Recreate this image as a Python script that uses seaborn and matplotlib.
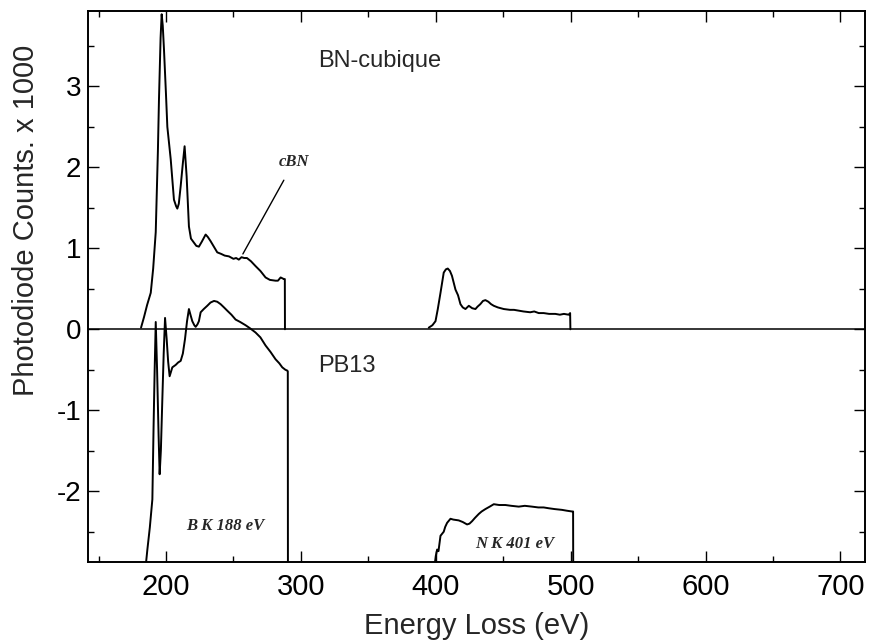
import numpy as np
import pandas as pd
import matplotlib
matplotlib.use("Agg")
import matplotlib.pyplot as plt
import seaborn as sns

# ---------------------------------------------
#   DATA
# ---------------------------------------------

# cubic BN, B K edge
cbn_b_ev = [181.5, 183.7, 186, 188.7, 190.5, 192.4, 194, 194.8, 196, 196.8, 197.6, 198.5,
            200, 201, 203.5, 205.9, 207.5, 208.4, 209.5, 210.9, 212.5, 213.8, 215.3, 217,
            218.5, 220.7, 222.5, 224.4, 226.5, 229.4, 231, 233, 235.5, 238, 241, 243.5,
            246.7, 250, 252, 254, 256, 258, 260, 263, 266.4, 270, 273.8, 277, 281.2, 283,
            285, 287.4, 288.1, 288.2]
cbn_b_counts = [0.02, 0.15, 0.3, 0.45, 0.75, 1.2, 2.2, 2.84, 3.6, 3.89, 3.75, 3.46,
                2.9, 2.5, 2.1, 1.6, 1.52, 1.49, 1.55, 1.77, 2.05, 2.26, 1.89, 1.27,
                1.12, 1.07, 1.03, 1.02, 1.08, 1.17, 1.14, 1.09, 1.02, 0.95, 0.93, 0.91,
                0.9, 0.87, 0.88, 0.86, 0.89, 0.88, 0.88, 0.84, 0.78, 0.72, 0.64, 0.61, 0.6, 0.6,
                0.64, 0.62, 0.62, 0.0]

# cubic BN, N K edge
cbn_n_ev = [394.8, 397.5, 399.8, 401.5, 403.5, 405.9, 407.5, 408.9, 410.5, 412, 414.6, 416.5,
            418.3, 420, 422, 424.5, 427, 429.4, 431, 433, 435, 436.8, 439, 441, 443, 446,
            450.4, 455, 458, 461.5, 465, 470, 473, 476.3, 480, 484, 488.6, 492, 495, 498.5,
            499.6, 499.8]
cbn_n_counts = [0.02, 0.05, 0.1, 0.25, 0.45, 0.7, 0.74, 0.75, 0.72, 0.66, 0.49, 0.42,
                0.31, 0.27, 0.25, 0.29, 0.26, 0.25, 0.28, 0.31, 0.35, 0.36, 0.34, 0.31, 0.29, 0.27,
                0.25, 0.24, 0.24, 0.23, 0.22, 0.21, 0.22, 0.2, 0.2, 0.19, 0.19, 0.18, 0.19, 0.18,
                0.2, 0.0]

# PB13 sample, B K edge (offset below zero)
pb13_b_ev = [184.5, 186.2, 188, 189.9, 190.8, 191.6, 192.4, 193.4, 194.5, 195.3, 196.2, 197.3,
             198.3, 199.3, 200.5, 201.6, 202.7, 204.7, 207.2, 209, 210.9, 212.5, 214.1, 215.6,
             217, 218.3, 219.5, 221, 222, 223.3, 224.4, 225.7, 228, 230.6, 233, 235.6, 238,
             240.5, 243, 245.4, 248.5, 251.6, 255, 259, 262.5, 266.4, 270, 273.8, 277.5, 281.2,
             284, 286.2, 288.5, 289.9, 290.3, 290.4]
pb13_b_counts = [-3.0, -2.72, -2.45, -2.1, -1.2, -0.5, 0.09, -0.5, -1.3, -1.79, -1.5, -0.86,
                 -0.3, 0.14, -0.12, -0.4, -0.58, -0.47, -0.44, -0.41, -0.39, -0.3, -0.12, 0.1,
                 0.25, 0.17, 0.1, 0.05, 0.03, 0.06, 0.1, 0.21, 0.25, 0.29, 0.33, 0.35, 0.34,
                 0.31, 0.27, 0.23, 0.18, 0.12, 0.09, 0.05, 0.01, -0.04, -0.1, -0.2, -0.28, -0.37,
                 -0.42, -0.47, -0.5, -0.51, -0.52, -3.0]

# PB13 sample, N K edge
pb13_n_ev = [398.5, 400, 401, 402, 403.5, 405.9, 407, 408.4, 410.9, 413, 417, 420, 423.2, 425,
             426.9, 429, 431.9, 434, 436.8, 440, 443, 447, 451.6, 456, 461.5, 466, 471.3, 476,
             480, 483.7, 488, 493.6, 497, 501, 501.8, 501.9]
pb13_n_counts = [-3.0, -2.8, -2.72, -2.74, -2.55, -2.5, -2.44, -2.39, -2.34, -2.35, -2.36, -2.38,
                 -2.41, -2.4, -2.37, -2.33, -2.28, -2.25, -2.22, -2.19, -2.16, -2.17, -2.17, -2.18,
                 -2.19, -2.18, -2.19, -2.2, -2.2, -2.21, -2.22, -2.23, -2.24, -2.25, -2.25, -3.0]

segments = {
    "cBN B": (cbn_b_ev, cbn_b_counts),
    "cBN N": (cbn_n_ev, cbn_n_counts),
    "PB13 B": (pb13_b_ev, pb13_b_counts),
    "PB13 N": (pb13_n_ev, pb13_n_counts),
}

frames = []
for name, (ev, counts) in segments.items():
    frames.append(pd.DataFrame({"ev": ev, "counts": counts, "segment": name}))
data = pd.concat(frames, ignore_index=True)

# ---------------------------------------------
#   PLOT
# ---------------------------------------------

sns.set_theme(style="ticks")
plt.rcParams["font.family"] = ["Liberation Sans", "DejaVu Sans"]
plt.rcParams["axes.unicode_minus"] = False

fig, ax = plt.subplots(figsize=(8.69, 6.44), dpi=100)
fig.subplots_adjust(left=0.1016, right=0.9954, top=0.9829, bottom=0.1278)

for name in segments:
    sns.lineplot(data=data[data["segment"] == name], x="ev", y="counts",
                 sort=False, estimator=None, color="black", linewidth=1.4, ax=ax)

ax.axhline(0, color="black", linewidth=1.1)

ax.set_xlim(142.4, 718.2)
ax.set_ylim(-2.87, 3.93)
ax.set_xticks([200, 300, 400, 500, 600, 700])
ax.set_xticks(np.arange(150, 701, 50), minor=True)
ax.set_yticks([-2, -1, 0, 1, 2, 3])
ax.set_yticks(np.arange(-2.5, 3.6, 0.5), minor=True)

ax.tick_params(which="both", direction="in", top=True, right=True, width=1.0, colors="black")
ax.tick_params(which="major", length=8)
ax.tick_params(which="minor", length=4.5)
ax.tick_params(axis="x", labelsize=21, pad=8)
ax.tick_params(axis="y", labelsize=20, pad=5)

for spine in ax.spines.values():
    spine.set_linewidth(1.4)
    spine.set_color("black")

ax.set_xlabel("Energy Loss (eV)", fontsize=21, labelpad=8)
ax.set_ylabel("Photodiode Counts. x 1000", fontsize=21)
# label sits above the axis centre in the original
ax.yaxis.set_label_coords(-0.062, 0.62)

ax.text(313, 3.31, "BN-cubique", fontsize=17, ha="left", va="center")
ax.text(313, -0.45, "PB13", fontsize=17, ha="left", va="center")

serif = ["Liberation Serif", "DejaVu Serif"]
ax.annotate("cBN", xy=(257, 0.93), xytext=(295, 2.07), fontsize=12,
            family=serif, style="italic", weight="bold", ha="center", va="center",
            arrowprops=dict(arrowstyle="-", color="black", lw=1.0, shrinkA=6, shrinkB=0))
ax.text(243.6, -2.43, "B K 188 eV", fontsize=12, family=serif, style="italic",
        weight="bold", ha="center", va="center")
ax.text(458.4, -2.65, "N K 401 eV", fontsize=12, family=serif, style="italic",
        weight="bold", ha="center", va="center")

plt.savefig("out.png", dpi=100)
